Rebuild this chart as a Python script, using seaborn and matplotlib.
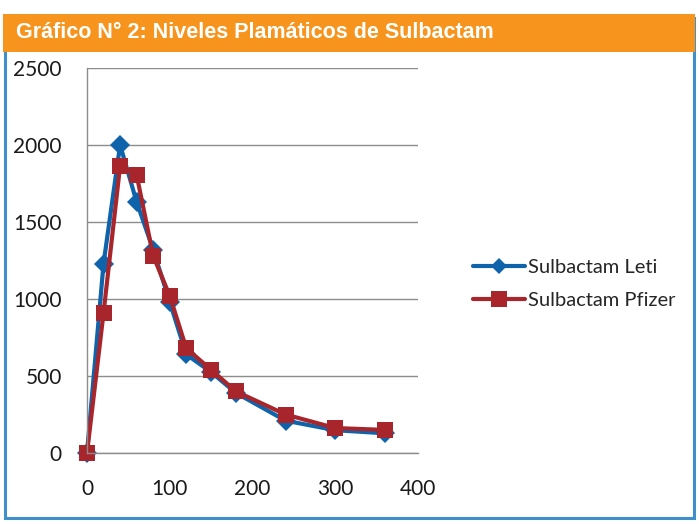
import pandas as pd
import numpy as np
import matplotlib
matplotlib.use("Agg")
import matplotlib.pyplot as plt
import seaborn as sns
from matplotlib.patches import Rectangle

# Tiempo (min) y niveles plasmáticos
tiempo = [0, 20, 40, 60, 80, 100, 120, 150, 180, 240, 300, 360]
leti = [0, 1230, 2000, 1630, 1320, 980, 640, 525, 390, 210, 148, 128]
pfizer = [0, 910, 1865, 1805, 1280, 1020, 680, 540, 400, 250, 162, 150]

series_names = ["Sulbactam Leti", "Sulbactam Pfizer"]
colors = {"Sulbactam Leti": "#0f63aa", "Sulbactam Pfizer": "#a8262b"}
markers = {"Sulbactam Leti": "D", "Sulbactam Pfizer": "s"}

x_ticks = [0, 100, 200, 300, 400]
y_ticks = [0, 500, 1000, 1500, 2000, 2500]
title = "Gráfico N° 2: Niveles Plamáticos de Sulbactam"

df = pd.concat([
    pd.DataFrame({"t": tiempo, "nivel": leti, "serie": series_names[0]}),
    pd.DataFrame({"t": tiempo, "nivel": pfizer, "serie": series_names[1]}),
])

sns.set_theme(style="white")
plt.rcParams['font.family'] = ['Lato', 'DejaVu Sans']

fig = plt.figure(figsize=(6.99, 5.24), dpi=100)

# blue frame and orange title bar
fig.patches.append(Rectangle((5 / 699, 6 / 524), 689 / 699, 500 / 524, transform=fig.transFigure,
                             fill=False, edgecolor="#3f8fca", linewidth=2.2))
fig.patches.append(Rectangle((3 / 699, 1 - 52 / 524), 692 / 699, 38 / 524, transform=fig.transFigure,
                             facecolor="#f7941d", edgecolor="none"))
fig.text(16 / 699, 1 - 33 / 524, title, color="white", fontsize=15.5, fontweight="bold",
         va="center", ha="left", family=['Liberation Sans Narrow', 'Liberation Sans', 'DejaVu Sans'])

ax = fig.add_axes([87 / 699, 1 - 453 / 524, 331 / 699, 385 / 524])
sns.lineplot(data=df, x="t", y="nivel", hue="serie", style="serie", palette=colors,
             markers=markers, dashes=False, linewidth=3, markersize=11, markeredgewidth=0,
             ax=ax, legend=False)

# diamonds a bit smaller than the squares like the original
ax.lines[0].set_markersize(10)
ax.lines[1].set_markersize(12)

ax.set_xlim(0, 400)
ax.set_ylim(0, 2500)
ax.set_xticks(x_ticks)
ax.set_yticks(y_ticks)
ax.set_xlabel("")
ax.set_ylabel("")
ax.yaxis.grid(True, color="#8c8c8c", linewidth=1)
ax.xaxis.grid(False)
for side in ["top", "right"]:
    ax.spines[side].set_visible(False)
for side in ["left", "bottom"]:
    ax.spines[side].set_color("#8c8c8c")
    ax.spines[side].set_linewidth(1)
ax.tick_params(axis="both", direction="out", length=6, width=1, color="#8c8c8c",
               labelsize=15, labelcolor="#1a1a1a")
ax.tick_params(axis="x", pad=13)
ax.tick_params(axis="y", pad=12)
for line in ax.lines:
    line.set_clip_on(False)

handles = [plt.Line2D([], [], color=colors[n], marker=markers[n], linewidth=3,
                      markersize=8 if n == series_names[0] else 11, markeredgewidth=0)
           for n in series_names]
fig.legend(handles, series_names, loc="center left", bbox_to_anchor=(455 / 699, 1 - 284 / 524),
           frameon=False, fontsize=14.5, handlelength=2.6, handletextpad=0.1, labelspacing=0.75)

fig.savefig("out.png", dpi=100)
